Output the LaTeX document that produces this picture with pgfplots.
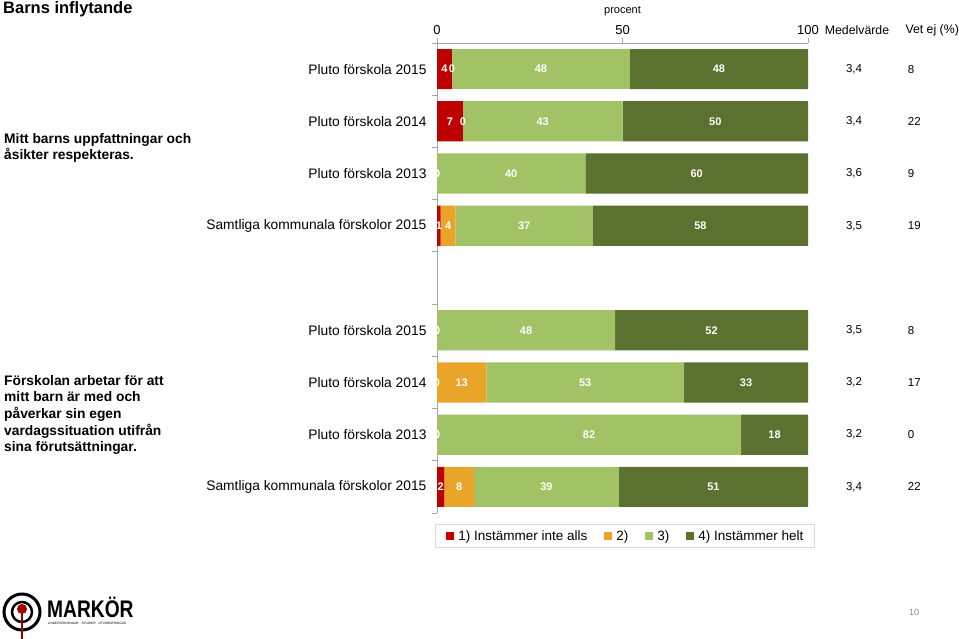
\documentclass[border=0pt]{standalone}
\usepackage{pgfplots}
\pgfplotsset{compat=1.18}
\usepackage{fontspec}
\setmainfont{Liberation Sans}
\definecolor{cRed}{HTML}{BE0000}
\definecolor{cOrange}{HTML}{E9A42A}
\definecolor{cLight}{HTML}{A2C266}
\definecolor{cDark}{HTML}{5B7130}
\definecolor{axgray}{HTML}{A6A6A6}
\tikzset{val/.style={font=\fontsize{11.5}{13}\selectfont}}
\pgfplotsset{geom/.style={at={(437pt,-513pt)}, anchor=south west,
  scale only axis, width=371pt, height=470pt,
  xmin=0, xmax=100, ymin=-0.5, ymax=8.5, clip=false}}
\begin{document}
\begin{tikzpicture}[x=1pt,y=1pt]
\path[use as bounding box] (0,0) rectangle (959,-639);
\begin{axis}[
  geom,
  xbar stacked, bar width=0.77,
  axis x line*=top, axis y line*=left,
  axis line style={axgray, line width=0.8pt},
  tick align=outside,
  major tick length=5pt,
  tick style={axgray, line width=0.8pt},
  xtick={0,50,100},
  /pgf/number format/assume math mode=true,
  x tick label style={font=\fontsize{13}{15}\selectfont},
  xlabel={procent},
  xlabel style={at={(axis description cs:0.5,1)}, anchor=center, yshift=32pt, font=\fontsize{11}{13}\selectfont},
  ytick={-0.5,0.5,...,8.5},
  yticklabels={},
  extra y ticks={0,1,2,3,5,6,7,8},
  extra y tick labels={Samtliga kommunala förskolor 2015, Pluto förskola 2013, Pluto förskola 2014, Pluto förskola 2015,
               Samtliga kommunala förskolor 2015, Pluto förskola 2013, Pluto förskola 2014, Pluto förskola 2015},
  extra y tick style={major tick length=0pt, tick label style={font=\fontsize{13.8}{16}\selectfont, xshift=-7pt}},
  legend columns=4,
  legend style={at={(0.505,-0.049)}, anchor=center, draw=black!15,
     font=\fontsize{13.5}{15}\selectfont, inner ysep=4pt, inner xsep=8.5pt,
     /tikz/every even column/.append style={column sep=12pt}},
  legend image code/.code={\fill[#1] (3pt,-4pt) rectangle (11pt,4pt); \path (0pt,0pt) -- (13pt,0pt);},
]
\addplot[fill=cRed, draw=none] coordinates {(4,8) (7,7) (0,6) (1,5) (0,3) (0,2) (0,1) (2,0)};
\addplot[fill=cOrange, draw=none] coordinates {(0,8) (0,7) (0,6) (4,5) (0,3) (13.3,2) (0,1) (8,0)};
\addplot[fill=cLight, draw=none] coordinates {(48,8) (43,7) (40,6) (37,5) (48,3) (53.3,2) (82,1) (39,0)};
\addplot[fill=cDark, draw=none] coordinates {(48,8) (50,7) (60,6) (58,5) (52,3) (33.4,2) (18,1) (51,0)};
\legend{1) Instämmer inte alls, 2), 3), 4) Instämmer helt}
\node[val] at (axis cs:112.4,8) {3,4};
\node[val] at (axis cs:112.4,7) {3,4};
\node[val] at (axis cs:112.4,6) {3,6};
\node[val] at (axis cs:112.4,5) {3,5};
\node[val] at (axis cs:112.4,3) {3,5};
\node[val] at (axis cs:112.4,2) {3,2};
\node[val] at (axis cs:112.4,1) {3,2};
\node[val] at (axis cs:112.4,0) {3,4};
\node[val,anchor=west] at (axis cs:126.0,8) {8};
\node[val,anchor=west] at (axis cs:126.0,7) {22};
\node[val,anchor=west] at (axis cs:126.0,6) {9};
\node[val,anchor=west] at (axis cs:126.0,5) {19};
\node[val,anchor=west] at (axis cs:126.0,3) {8};
\node[val,anchor=west] at (axis cs:126.0,2) {17};
\node[val,anchor=west] at (axis cs:126.0,1) {0};
\node[val,anchor=west] at (axis cs:126.0,0) {22};
\end{axis}
% segment labels, centred on each segment
\begin{axis}[geom, hide axis]
\addplot[draw=none, mark=none, nodes near coords, point meta=explicit symbolic,
  nodes near coords style={anchor=center, text=white, font=\bfseries\fontsize{11}{13}\selectfont}]
  coordinates {
  (2,8) [4] (4,8) [0] (28,8) [48] (76,8) [48]
  (3.5,7) [7] (7,7) [0] (28.5,7) [43] (75,7) [50]
  (0,6) [0] (0,6) [0] (20,6) [40] (70,6) [60]
  (0.5,5) [1] (3,5) [4] (23.5,5) [37] (71,5) [58]
  (0,3) [0] (0,3) [0] (24,3) [48] (74,3) [52]
  (0,2) [0] (6.65,2) [13] (39.95,2) [53] (83.3,2) [33]
  (0,1) [0] (0,1) [0] (41,1) [82] (91,1) [18]
  (1,0) [2] (6,0) [8] (29.5,0) [39] (74.5,0) [51]
  };
\end{axis}
% headers
\node[font=\fontsize{12.3}{14}\selectfont] at (857,-30) {Medelvärde};
\node[font=\fontsize{12.3}{14}\selectfont, anchor=west] at (902,-30) {Vet ej (\%)};
% title
\node[anchor=west, font=\bfseries\fontsize{16.5}{19}\selectfont, inner sep=0pt] at (3,-9) {Barns inflytande};
% group labels
\node[anchor=west, align=left, inner sep=0pt, font=\bfseries\fontsize{13.8}{16.7}\selectfont] at (4,-148) {Mitt barns uppfattningar och\\åsikter respekteras.};
\node[anchor=west, align=left, inner sep=0pt, font=\bfseries\fontsize{13.8}{16.7}\selectfont] at (4,-415) {Förskolan arbetar för att\\mitt barn är med och\\påverkar sin egen\\vardagssituation utifrån\\sina förutsättningar.};
% logo
\draw[line width=3pt] (22,-612) circle (18);
\draw[line width=2.5pt] (22,-612) circle (10);
\draw[cRed!80!black, line width=2pt] (22,-610) -- (22,-639);
\fill[cRed!85!black] (22,-609) circle (5);
\node[anchor=west, inner sep=0pt, font=\bfseries\fontsize{24}{24}\selectfont] at (47,-607) {\scalebox{0.8}[1]{MARKÖR}};
\node[anchor=west, inner sep=0pt, font=\fontsize{3.2}{4}\selectfont] at (48,-623) {UNDERSÖKNINGAR · STUDIER · UTVÄRDERINGAR};
% page number
\node[text=black!45, font=\fontsize{9}{10}\selectfont] at (914,-612) {10};
\end{tikzpicture}
\end{document}
